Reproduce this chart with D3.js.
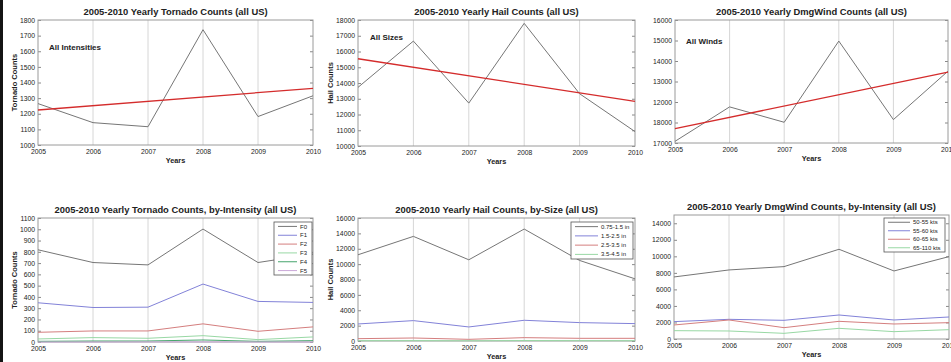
<!DOCTYPE html>
<html>
<head>
<meta charset="utf-8">
<script src="https://cdn.jsdelivr.net/npm/d3@7"></script>
<style>
  html, body { margin: 0; padding: 0; background: #fff; }
  svg { display: block; }
  text { font-family: "Liberation Sans", Arial, sans-serif; fill: #222; }
</style>
</head>
<body>
<svg id="chart" width="951" height="362"></svg>
<script>
// ---- data ----
const years = [2005, 2006, 2007, 2008, 2009, 2010];

const tornadoTotal = [1265, 1143, 1117, 1738, 1182, 1315];
const tornadoTrend = [1224, 1363];          // linear fit at 2005 and 2010
const hailTotal = [13723, 16660, 12723, 17787, 13319, 10915];
const hailTrend = [15540, 12830];
const windTotal = [10081, 11761, 11011, 14973, 11141, 13505];
const windTrend = [10701, 13456];

const tornadoClasses = ["F0", "F1", "F2", "F3", "F4", "F5"];
const tornadoF0 = [818, 705, 684, 1002, 705, 780];
const tornadoF1 = [348, 306, 309, 514, 360, 351];
const tornadoF2 = [86, 98, 98, 161, 95, 134];
const tornadoF3 = [27, 39, 33, 56, 21, 45];
const tornadoF4 = [6, 9, 9, 18, 6, 12];
const tornadoF5 = [0, 0, 1, 1, 0, 0];

const hailClasses = ["0.75-1.5 in", "1.5-2.5 in", "2.5-3.5 in", "3.5-4.5 in"];
const hailSmall = [11217, 13609, 10565, 14565, 10478, 8087];
const hailMedium = [2217, 2652, 1826, 2696, 2391, 2261];
const hailLarge = [304, 391, 217, 435, 348, 348];
const hailGiant = [40, 50, 30, 60, 45, 40];

const windClasses = ["50-55 kts", "55-60 kts", "60-65 kts", "65-110 kts"];
const wind50 = [7505, 8353, 8756, 10854, 8231, 9966];
const wind55 = [2100, 2380, 2259, 2904, 2300, 2662];
const wind60 = [1697, 2300, 1372, 2138, 1815, 1977];
const wind65 = [1008, 968, 686, 1291, 887, 1129];

const tornadoTicks = [1000, 1100, 1200, 1300, 1400, 1500, 1600, 1700, 1800];
const hailTicks = [10000, 11000, 12000, 13000, 14000, 15000, 16000, 17000, 18000];
const windTicks = [10000, 11000, 12000, 13000, 14000, 15000, 16000];
const windTickLabels = ["17000", "18000", "12000", "13000", "14000", "15000", "16000"];
const tornadoClassTicks = [0, 100, 200, 300, 400, 500, 600, 700, 800, 900, 1000, 1100];
const hailClassTicks = [0, 2000, 4000, 6000, 8000, 10000, 12000, 14000, 16000];
const windClassTicks = [0, 2000, 4000, 6000, 8000, 10000, 12000, 14000];

// ---- styles ----
const C = {
  gray: "#767676",
  blue: "#8282d8",
  red: "#d47e7e",
  lightGreen: "#98d8a4",
  green: "#46a56c",
  purple: "#caa8d8",
  trend: "#d42c2c"
};

const svg = d3.select("#chart");
svg.append("rect").attr("width", 951).attr("height", 362).attr("fill", "#fff");
svg.append("rect").attr("x", 0).attr("y", 0).attr("width", 3).attr("height", 362).attr("fill", "#141414");

const defs = svg.append("defs");
defs.append("clipPath").attr("id", "labelClip")
  .append("rect").attr("x", 646).attr("y", 0).attr("width", 305).attr("height", 362);

function panel(p) {
  const x = d3.scaleLinear().domain([years[0], years[years.length - 1]]).range([p.left, p.right]);
  const y = d3.scaleLinear().domain(p.domain).range([p.bottom, p.top]);
  const g = svg.append("g");

  // vertical year grid
  g.selectAll("line.grid").data(years.slice(1, -1)).join("line")
    .attr("x1", d => x(d)).attr("x2", d => x(d))
    .attr("y1", p.top).attr("y2", p.bottom)
    .attr("stroke", "#d6d6d6").attr("stroke-width", 1);

  // y axis, ticks pointing inward
  const ya = g.append("g").attr("transform", `translate(${p.left},0)`)
    .call(d3.axisLeft(y).tickValues(p.ticks).tickSize(-3).tickPadding(3)
      .tickFormat((d, i) => p.tickLabels ? p.tickLabels[i] : d));
  ya.select(".domain").remove();
  ya.selectAll("line").attr("stroke", "#888");
  ya.selectAll("text").attr("font-size", 6.8).attr("fill", "#333")
    .style("font-family", "'Liberation Sans', Arial, sans-serif");

  const yr = g.append("g").attr("transform", `translate(${p.right},0)`)
    .call(d3.axisRight(y).tickValues(p.ticks).tickSize(-3).tickFormat(""));
  yr.select(".domain").remove();
  yr.selectAll("line").attr("stroke", "#888");

  // x axis labels
  const xa = g.append("g").attr("transform", `translate(0,${p.bottom})`)
    .call(d3.axisBottom(x).tickValues(years).tickSize(0).tickPadding(4).tickFormat(d3.format("d")));
  xa.select(".domain").remove();
  xa.selectAll("text").attr("font-size", 6.8).attr("fill", "#333")
    .style("font-family", "'Liberation Sans', Arial, sans-serif");

  // frame
  g.append("rect").attr("x", p.left).attr("y", p.top)
    .attr("width", p.right - p.left).attr("height", p.bottom - p.top)
    .attr("fill", "none").attr("stroke", "#9a9a9a").attr("stroke-width", 1);

  const line = d3.line().x((d, i) => x(years[i])).y(d => y(d));
  p.series.forEach(s => {
    g.append("path").datum(s.values).attr("d", line)
      .attr("fill", "none").attr("stroke", s.color).attr("stroke-width", s.width || 1);
  });
  if (p.trend) {
    g.append("line")
      .attr("x1", x(years[0])).attr("y1", y(p.trend[0]))
      .attr("x2", x(years[years.length - 1])).attr("y2", y(p.trend[1]))
      .attr("stroke", C.trend).attr("stroke-width", 1.3);
  }

  // titles and labels
  g.append("text").attr("x", (p.left + p.right) / 2).attr("y", p.top - 5)
    .attr("text-anchor", "middle").attr("font-size", 9.4).attr("font-weight", "bold")
    .text(p.title);
  g.append("text").attr("x", (p.left + p.right) / 2).attr("y", p.bottom + 18)
    .attr("text-anchor", "middle").attr("font-size", 7.3).attr("font-weight", "bold")
    .text("Years");
  const yl = g.append("text")
    .attr("transform", `translate(${p.ylabelX},${(p.top + p.bottom) / 2}) rotate(-90)`)
    .attr("text-anchor", "middle").attr("font-size", 7.5).attr("font-weight", "bold")
    .text(p.ylabel);
  if (p.clipLabel) yl.attr("clip-path", "url(#labelClip)");

  if (p.note) {
    g.append("text").attr("x", p.left + p.note.dx).attr("y", p.top + p.note.dy)
      .attr("font-size", 8).attr("font-weight", "bold").text(p.note.text);
  }

  if (p.legend) {
    const L = p.legend;
    const lg = g.append("g");
    lg.append("rect").attr("x", L.x0).attr("y", L.y0)
      .attr("width", L.x1 - L.x0).attr("height", L.y1 - L.y0)
      .attr("fill", "#fff").attr("stroke", "#555").attr("stroke-width", 0.8);
    const step = (L.y1 - L.y0) / p.series.length;
    p.series.forEach((s, i) => {
      const cy = L.y0 + step * (i + 0.5);
      lg.append("line").attr("x1", L.x0 + 4).attr("x2", L.x0 + L.lineLen)
        .attr("y1", cy).attr("y2", cy).attr("stroke", s.color).attr("stroke-width", 1);
      lg.append("text").attr("x", L.x0 + L.lineLen + 3).attr("y", cy).attr("dy", "0.35em")
        .attr("font-size", 6).attr("fill", "#333").text(s.name);
    });
  }
}

// top row: totals with linear trend
panel({
  left: 38, right: 313, top: 20, bottom: 145, domain: [1000, 1800], ticks: tornadoTicks,
  title: "2005-2010 Yearly Tornado Counts (all US)", ylabel: "Tornado Counts", ylabelX: 16.5,
  series: [{ values: tornadoTotal, color: C.gray }], trend: tornadoTrend,
  note: { text: "All Intensities", dx: 11, dy: 30 }
});
panel({
  left: 358, right: 635, top: 20, bottom: 146, domain: [10000, 18000], ticks: hailTicks,
  title: "2005-2010 Yearly Hail Counts (all US)", ylabel: "Hail Counts", ylabelX: 333,
  series: [{ values: hailTotal, color: C.gray }], trend: hailTrend,
  note: { text: "All Sizes", dx: 12, dy: 20 }
});
panel({
  left: 675, right: 948, top: 20, bottom: 143, domain: [10000, 16000], ticks: windTicks,
  tickLabels: windTickLabels,
  title: "2005-2010 Yearly DmgWind Counts (all US)", ylabel: "Dmgwind Counts", ylabelX: 650.5,
  clipLabel: true,
  series: [{ values: windTotal, color: C.gray }], trend: windTrend,
  note: { text: "All Winds", dx: 11, dy: 24 }
});

// bottom row: counts by class
panel({
  left: 38, right: 313, top: 218, bottom: 342, domain: [0, 1100], ticks: tornadoClassTicks,
  title: "2005-2010 Yearly Tornado Counts, by-Intensity (all US)", ylabel: "Tornado Counts", ylabelX: 16.5,
  series: [
    { name: tornadoClasses[0], values: tornadoF0, color: C.gray },
    { name: tornadoClasses[1], values: tornadoF1, color: C.blue },
    { name: tornadoClasses[2], values: tornadoF2, color: C.red },
    { name: tornadoClasses[3], values: tornadoF3, color: C.lightGreen },
    { name: tornadoClasses[4], values: tornadoF4, color: C.green },
    { name: tornadoClasses[5], values: tornadoF5, color: C.purple }
  ],
  legend: { x0: 274, y0: 222, x1: 312, y1: 275, lineLen: 23 }
});
panel({
  left: 358, right: 635, top: 218, bottom: 341, domain: [0, 16000], ticks: hailClassTicks,
  title: "2005-2010 Yearly Hail Counts, by-Size (all US)", ylabel: "Hail Counts", ylabelX: 333,
  series: [
    { name: hailClasses[0], values: hailSmall, color: C.gray },
    { name: hailClasses[1], values: hailMedium, color: C.blue },
    { name: hailClasses[2], values: hailLarge, color: C.red },
    { name: hailClasses[3], values: hailGiant, color: C.lightGreen }
  ],
  legend: { x0: 571, y0: 222, x1: 633, y1: 259, lineLen: 27 }
});
panel({
  left: 674, right: 949, top: 215, bottom: 339, domain: [0, 15000], ticks: windClassTicks,
  title: "2005-2010 Yearly DmgWind Counts, by-Intensity (all US)", ylabel: "Dmgwind Counts", ylabelX: 650.5,
  clipLabel: true,
  series: [
    { name: windClasses[0], values: wind50, color: C.gray },
    { name: windClasses[1], values: wind55, color: C.blue },
    { name: windClasses[2], values: wind60, color: C.red },
    { name: windClasses[3], values: wind65, color: C.lightGreen }
  ],
  legend: { x0: 884, y0: 218, x1: 945, y1: 252, lineLen: 26 }
});
</script>
</body>
</html>
